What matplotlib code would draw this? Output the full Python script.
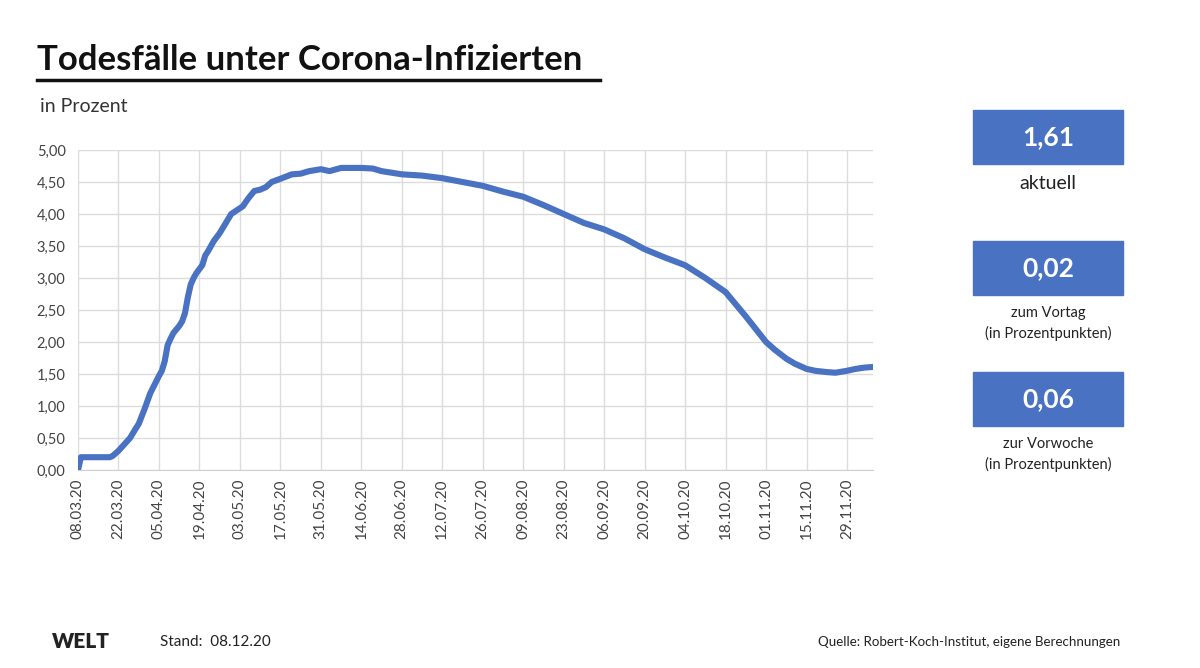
import matplotlib
matplotlib.use('Agg')
import matplotlib.pyplot as plt
import matplotlib.dates as mdates
from matplotlib.patches import Rectangle
from matplotlib.lines import Line2D
from datetime import date, timedelta

plt.rcParams['font.family'] = ['Lato', 'DejaVu Sans']

# values (share of deaths among infected, in percent)
dates = ["08.03.20", "09.03.20", "19.03.20", "20.03.20", "22.03.20", "24.03.20", "26.03.20",
         "28.03.20", "29.03.20", "31.03.20", "02.04.20", "04.04.20", "05.04.20", "06.04.20",
         "07.04.20", "08.04.20", "09.04.20", "10.04.20", "12.04.20", "13.04.20", "14.04.20",
         "15.04.20", "16.04.20", "17.04.20", "18.04.20", "19.04.20", "20.04.20", "21.04.20",
         "22.04.20", "24.04.20", "26.04.20", "28.04.20", "30.04.20", "02.05.20", "04.05.20",
         "06.05.20", "08.05.20", "10.05.20", "12.05.20", "14.05.20", "17.05.20", "21.05.20",
         "24.05.20", "27.05.20", "31.05.20", "03.06.20", "07.06.20", "14.06.20", "18.06.20",
         "21.06.20", "28.06.20", "05.07.20", "12.07.20", "19.07.20", "26.07.20", "02.08.20",
         "09.08.20", "16.08.20", "23.08.20", "30.08.20", "06.09.20", "13.09.20", "20.09.20",
         "27.09.20", "04.10.20", "11.10.20", "18.10.20", "25.10.20", "01.11.20", "04.11.20",
         "08.11.20", "11.11.20", "15.11.20", "18.11.20", "22.11.20", "25.11.20", "29.11.20",
         "02.12.20", "05.12.20", "08.12.20"]
values = [0.00, 0.20, 0.20, 0.22, 0.30, 0.40, 0.50,
          0.65, 0.72, 0.95, 1.20, 1.38, 1.47, 1.55,
          1.70, 1.95, 2.05, 2.14, 2.25, 2.32, 2.45,
          2.70, 2.90, 3.00, 3.08, 3.14, 3.20, 3.35,
          3.42, 3.58, 3.70, 3.85, 4.00, 4.06, 4.12,
          4.25, 4.36, 4.38, 4.42, 4.50, 4.55, 4.62,
          4.63, 4.67, 4.70, 4.67, 4.72, 4.72, 4.71,
          4.67, 4.62, 4.60, 4.56, 4.50, 4.44, 4.35,
          4.27, 4.14, 4.00, 3.86, 3.76, 3.62, 3.45,
          3.32, 3.20, 3.00, 2.78, 2.40, 2.00, 1.88,
          1.74, 1.66, 1.58, 1.55, 1.53, 1.52, 1.55,
          1.58, 1.60, 1.61]

kpi_values = ["1,61", "0,02", "0,06"]
kpi_labels = ["aktuell", "zum Vortag\n(in Prozentpunkten)", "zur Vorwoche\n(in Prozentpunkten)"]

def parse(s):
    d, m, y = s.split(".")
    return date(2000 + int(y), int(m), int(d))

x = [parse(s) for s in dates]
blue = '#4a72c2'

fig = plt.figure(figsize=(12, 6.68), dpi=100)
ax = fig.add_axes([78 / 1200, 198 / 668, 795 / 1200, 320 / 668])

ax.plot(x, values, color=blue, lw=4.4, solid_capstyle='round', solid_joinstyle='round', zorder=3)

ticks = [date(2020, 3, 8) + timedelta(days=14 * i) for i in range(20)]
ax.set_xticks(ticks)
ax.xaxis.set_major_formatter(mdates.DateFormatter('%d.%m.%y'))
ax.set_xlim(date(2020, 3, 8), date(2020, 12, 8))
ax.set_ylim(0, 5)
ax.set_yticks([i * 0.5 for i in range(11)])
ax.set_yticklabels([f"{i * 0.5:.2f}".replace(".", ",") for i in range(11)])

ax.grid(True, color='#dcdcdc', lw=1)
ax.set_axisbelow(True)
for s in ['top', 'right', 'left']:
    ax.spines[s].set_visible(False)
ax.spines['bottom'].set_color('#d0d0d0')
ax.tick_params(axis='both', length=0, colors='#444444')
ax.tick_params(axis='x', rotation=90, pad=6, labelsize=11)
ax.tick_params(axis='y', pad=9, labelsize=10.5)

# title block
fig.text(37 / 1200, 1 - 60 / 668, "Todesfälle unter Corona-Infizierten", fontsize=25,
         fontweight='bold', va='center', ha='left', color='#111111')
fig.add_artist(Line2D([37 / 1200, 600 / 1200], [1 - 80 / 668, 1 - 80 / 668], color='#111111', lw=2.5))
fig.text(40 / 1200, 1 - 106 / 668, "in Prozent", fontsize=14, va='center', ha='left', color='#333333')

# KPI boxes
box_tops = [110, 241, 372]
for top, val, lab in zip(box_tops, kpi_values, kpi_labels):
    fig.add_artist(Rectangle((973 / 1200, 1 - (top + 54) / 668), 150 / 1200, 54 / 668,
                             color=blue, transform=fig.transFigure))
    fig.text(1048 / 1200, 1 - (top + 27) / 668, val, fontsize=19, fontweight='bold',
             color='white', ha='center', va='center')
    fs = 14 if '\n' not in lab else 10.5
    fig.text(1048 / 1200, 1 - (top + 65) / 668, lab, fontsize=fs, color='#222222',
             ha='center', va='top', linespacing=1.5)

# footer
fig.text(52 / 1200, 1 - 642 / 668, "WELT", fontsize=15, fontweight='heavy', color='#222222',
         ha='left', va='center')
fig.text(160 / 1200, 1 - 642 / 668, "Stand:  08.12.20", fontsize=11, color='#222222',
         ha='left', va='center')
fig.text(1120 / 1200, 1 - 642 / 668, "Quelle: Robert-Koch-Institut, eigene Berechnungen",
         fontsize=9.6, color='#222222', ha='right', va='center')

fig.savefig('out.png', dpi=100)
